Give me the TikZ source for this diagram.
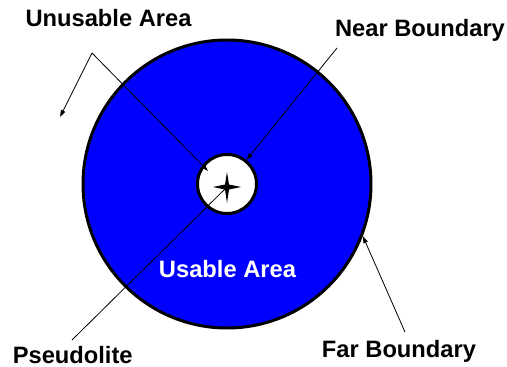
\documentclass[tikz,border=0pt]{standalone}
\usepackage{fontspec}
\setmainfont{Liberation Sans}
\usetikzlibrary{arrows.meta}
\definecolor{areablue}{RGB}{0,0,255}
\begin{document}
\begin{tikzpicture}[x=1pt,y=-1pt,
  lbl/.style={font=\fontsize{23.7}{28}\selectfont\bfseries, inner sep=0pt, anchor=base},
  ring/.style={circle, draw=black, line width=3pt, inner sep=0pt},
  conn/.style={draw=black, line width=0.8pt},
  arr/.style={conn, -{Triangle[length=7pt,width=4.5pt]}}]
\useasboundingbox (0,0) rectangle (507,367);
% areas
\node[ring, fill=areablue, minimum size=288pt] (far) at (227,184) {};
\node[ring, fill=white, minimum size=59pt] (near) at (227,184) {};
% labels
\node[lbl] (unusable) at (108.5,26) {Unusable Area};
\node[lbl] (nearlbl) at (420,36.7) {Near Boundary};
\node[lbl] (pseudo) at (72.7,363) {Pseudolite};
\node[lbl] (farlbl) at (399,357.7) {Far Boundary};
\node[lbl, text=white] (usable) at (227.5,277) {Usable Area};
% connector points
\coordinate (ujoint) at (92,53);
\coordinate (uout) at (60,117);
\coordinate (uin) at (208,171);
\coordinate (nstart) at (337,48);
\coordinate (pstart) at (72,340);
\coordinate (fstart) at (405,332);
\coordinate (star) at (227,187);
% connectors
\draw[arr] (ujoint) -- (uout);
\draw[arr] (ujoint) -- (uin);
\draw[arr] (nstart) -- (near);
\draw[conn] (pstart) -- (star);
\draw[arr] (fstart) -- (far.-21);
% pseudolite star
\fill[black] (star) ++(0,-15) -- ++(2,12.5) -- ++(12,2.5) -- ++(-12,2.5) -- ++(-2,13.5)
  -- ++(-2,-13.5) -- ++(-12,-2.5) -- ++(12,-2.5) -- cycle;
\end{tikzpicture}
\end{document}
